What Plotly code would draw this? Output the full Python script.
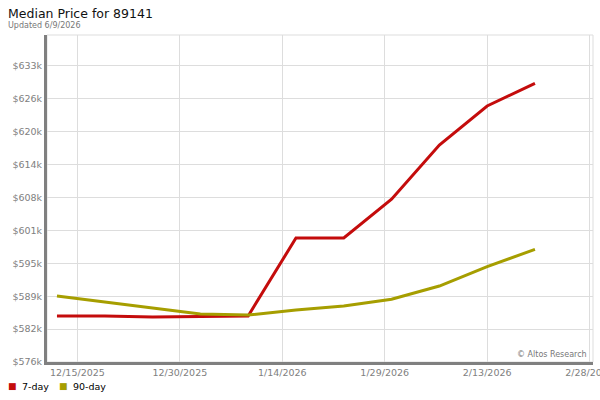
import plotly.graph_objects as go

dates = ["2025-12-12", "2025-12-19", "2025-12-26", "2026-01-02", "2026-01-09",
         "2026-01-16", "2026-01-23", "2026-01-30", "2026-02-06", "2026-02-13", "2026-02-20"]
seven_day = [585310, 585310, 585120, 585220, 585310, 600250, 600250, 607660, 618060, 625520, 629870]
ninety_day = [589140, 587990, 586840, 585690, 585500, 586460, 587220, 588510, 591050, 594750, 598080]

series_names = ["7-day", "90-day"]
y_tickvals = [576500 + 6300 * i for i in range(10)]
y_ticktext = ["$576k", "$582k", "$589k", "$595k", "$601k", "$608k", "$614k", "$620k", "$626k", "$633k"]
x_tickvals = ["2025-12-15", "2025-12-30", "2026-01-14", "2026-01-29", "2026-02-13", "2026-02-28"]
x_ticktext = ["12/15/2025", "12/30/2025", "1/14/2026", "1/29/2026", "2/13/2026", "2/28/2026"]

RED = "#c40c0c"
OLIVE = "#a69e00"

fig = go.Figure()
fig.add_trace(go.Scatter(x=dates, y=seven_day, mode="lines", name=series_names[0],
                         line=dict(color=RED, width=3), showlegend=False, hoverinfo="skip"))
fig.add_trace(go.Scatter(x=dates, y=ninety_day, mode="lines", name=series_names[1],
                         line=dict(color=OLIVE, width=3), showlegend=False, hoverinfo="skip"))

PL, PR, PT, PB = 47, 593, 35, 362
pw, ph = PR - PL, PB - PT

def px_x(x):
    return (x - PL) / pw

def px_y(y):
    return (PB - y) / ph

fig.update_layout(
    width=600, height=400,
    margin=dict(l=PL, r=600 - PR, t=PT, b=400 - PB, autoexpand=False),
    paper_bgcolor="white", plot_bgcolor="white",
    font=dict(family="DejaVu Sans", size=10, color="#000000"),
    showlegend=False,
    xaxis=dict(range=["2025-12-10 13:00", "2026-02-28 12:00"], type="date",
               tickvals=x_tickvals, ticktext=x_ticktext,
               showgrid=True, gridcolor="#dddddd", gridwidth=1,
               showline=True, linecolor="#808080", linewidth=3,
               ticks="", zeroline=False, ticklabeloverflow="allow",
               tickfont=dict(family="DejaVu Sans", size=9.5, color="#808080")),
    yaxis=dict(range=[576500, 576500 + 327 * 191.5],
               tickvals=y_tickvals, ticktext=y_ticktext,
               showgrid=True, gridcolor="#dddddd", gridwidth=1,
               showline=True, linecolor="#808080", linewidth=3,
               ticks="", zeroline=False, ticklabeloverflow="allow",
               tickfont=dict(family="DejaVu Sans", size=9.5, color="#808080")),
    shapes=[
        dict(type="rect", xref="paper", yref="paper", x0=0, x1=1, y0=0, y1=1,
             line=dict(color="#dddddd", width=1), layer="below"),
    ],
    annotations=[
        dict(text="Median Price for 89141", xref="paper", yref="paper", x=px_x(6), y=px_y(13),
             xanchor="left", yanchor="middle", showarrow=False,
             font=dict(family="DejaVu Sans", size=12.5, color="#111111")),
        dict(text="Updated 6/9/2026", xref="paper", yref="paper", x=px_x(6), y=px_y(25),
             xanchor="left", yanchor="middle", showarrow=False,
             font=dict(family="DejaVu Sans", size=8, color="#777777")),
        dict(text="© Altos Research", xref="paper", yref="paper", x=px_x(589), y=px_y(354),
             xanchor="right", yanchor="middle", showarrow=False,
             font=dict(family="DejaVu Sans", size=8, color="#777777")),
        dict(text="■", xref="paper", yref="paper", x=px_x(6), y=px_y(385.5),
             xanchor="left", yanchor="middle", showarrow=False,
             font=dict(family="DejaVu Sans", size=9, color=RED)),
        dict(text=series_names[0], xref="paper", yref="paper", x=px_x(20), y=px_y(386),
             xanchor="left", yanchor="middle", showarrow=False,
             font=dict(family="DejaVu Sans", size=9.5, color="#000000")),
        dict(text="■", xref="paper", yref="paper", x=px_x(56.5), y=px_y(385.5),
             xanchor="left", yanchor="middle", showarrow=False,
             font=dict(family="DejaVu Sans", size=9, color=OLIVE)),
        dict(text=series_names[1], xref="paper", yref="paper", x=px_x(71), y=px_y(386),
             xanchor="left", yanchor="middle", showarrow=False,
             font=dict(family="DejaVu Sans", size=9.5, color="#000000")),
    ],
)

fig.write_html("out.html", config={"displayModeBar": False},
               post_script="document.body.style.margin='0';document.body.style.overflow='hidden';")
